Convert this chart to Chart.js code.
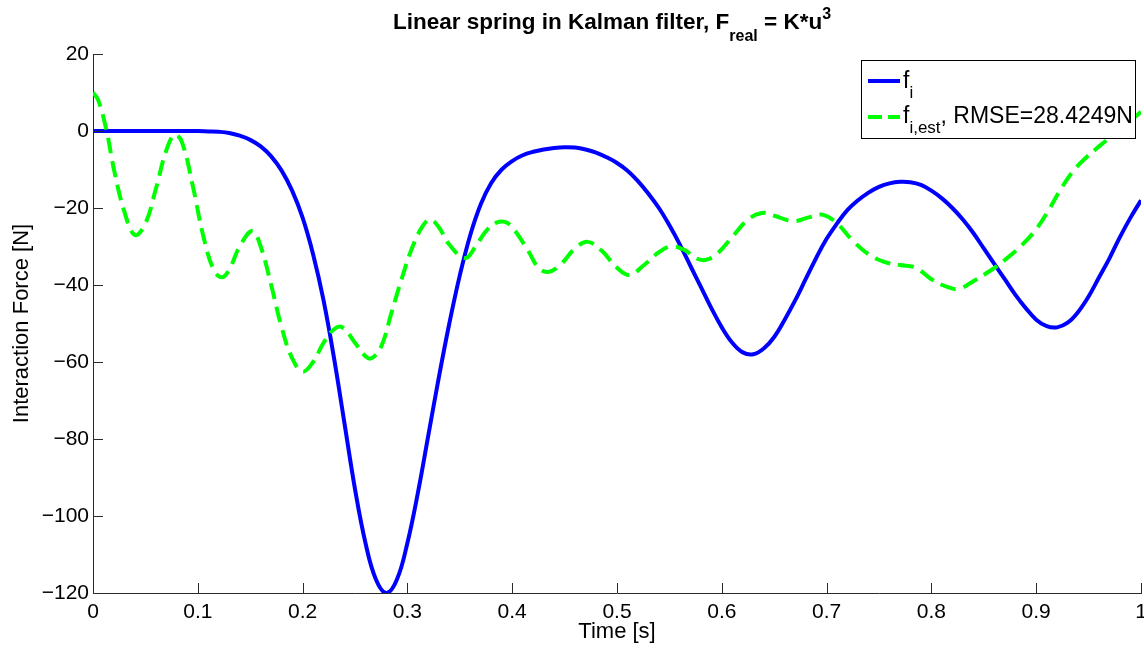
<!DOCTYPE html>
<html>
<head>
<meta charset="utf-8">
<script src="https://cdn.jsdelivr.net/npm/chart.js@4.4.1/dist/chart.umd.min.js"></script>
<style>
  html, body { margin: 0; padding: 0; background: #fff; }
  #wrap { width: 1144px; height: 648px; }
</style>
</head>
<body>
<div id="wrap"><canvas id="force-chart" width="1144" height="648"></canvas></div>
<script>
// real interaction force f_i
const timeReal = [0, 0.05, 0.10, 0.11, 0.12, 0.13, 0.14, 0.15, 0.16, 0.17, 0.18, 0.19, 0.20, 0.21, 0.22, 0.23, 0.24, 0.25,
  0.26, 0.27, 0.28, 0.29, 0.30, 0.31, 0.32, 0.33, 0.34, 0.35, 0.36, 0.37, 0.38, 0.39, 0.40, 0.41, 0.42, 0.43, 0.44,
  0.45, 0.46, 0.47, 0.48, 0.49, 0.50, 0.51, 0.52, 0.53, 0.54, 0.55, 0.56, 0.57, 0.58, 0.59, 0.60, 0.61, 0.62, 0.63,
  0.64, 0.65, 0.66, 0.67, 0.68, 0.69, 0.70, 0.71, 0.72, 0.73, 0.74, 0.75, 0.76, 0.77, 0.78, 0.79, 0.80, 0.81, 0.82,
  0.83, 0.84, 0.85, 0.86, 0.87, 0.88, 0.89, 0.90, 0.91, 0.92, 0.93, 0.94, 0.95, 0.96, 0.97, 0.98, 0.99, 1.00];
const forceReal = [0, 0, 0, -0.1, -0.2, -0.5, -1.2, -2.3, -4, -6.6, -10.3, -15.5, -22.5, -32, -44, -59, -76, -93,
  -107, -116.5, -120, -116.5, -107, -94, -79, -64, -50, -37.5, -27, -19, -13.5, -10, -7.8, -6.3, -5.4, -4.8, -4.4,
  -4.2, -4.3, -4.8, -5.6, -6.8, -8.3, -10.3, -13, -16.3, -20, -24.5, -29.5, -35, -40.5, -46, -51, -55, -57.5, -58,
  -56.5, -53.5, -49, -44, -38.5, -33, -28, -24, -20.5, -18, -16, -14.5, -13.6, -13.2, -13.3, -14, -15.5, -17.5, -20,
  -23, -26.5, -30.5, -34.5, -38.5, -42.5, -46, -49, -50.7, -51, -49.8, -47, -43, -38, -33, -27.5, -22.5, -18];

// Kalman estimate f_i,est
const timeEst = [0, 0.005, 0.013, 0.02, 0.03, 0.04, 0.05, 0.06, 0.07, 0.078, 0.085, 0.095, 0.105, 0.115, 0.123, 0.13, 0.14, 0.152,
  0.16, 0.17, 0.18, 0.19, 0.20, 0.21, 0.22, 0.23, 0.238, 0.25, 0.26, 0.266, 0.275, 0.285, 0.295, 0.305, 0.315, 0.322,
  0.33, 0.34, 0.355, 0.365, 0.375, 0.385, 0.393, 0.40, 0.415, 0.425, 0.434, 0.445, 0.46, 0.472, 0.485, 0.50,
  0.512, 0.525, 0.54, 0.552, 0.565, 0.575, 0.584, 0.595, 0.61, 0.625, 0.638, 0.65, 0.668, 0.685, 0.697, 0.71,
  0.725, 0.74, 0.755, 0.77, 0.785, 0.80, 0.815, 0.826, 0.84, 0.855, 0.87, 0.885, 0.90, 0.912, 0.923, 0.935,
  0.948, 0.96, 0.97, 0.985, 1.0];
const forceEst = [10, 8, 0, -10, -21, -27, -24, -15, -5, -1, -3, -14, -27, -36, -38, -36, -30, -26,
  -30, -40, -51, -59, -62.5, -60, -55, -51.5, -51, -55, -58.5, -59, -56, -47, -38, -30, -24.5, -23,
  -25, -29.5, -33, -30, -26, -23.8, -23.6, -25, -31, -35.5, -36.6, -35, -30.5, -28.8, -31, -35.5,
  -37.4, -35, -31.5, -30, -31, -33, -33.5, -32, -27.5, -23, -21.3, -22, -23.4, -22.3, -21.8, -24,
  -28.5, -32, -34, -34.8, -35.5, -38.5, -40.5, -41, -39, -36.5, -33.5, -30, -25.5, -20.5, -15.3, -10.5,
  -6.8, -4, -1.8, 1.5, 5];

const xTicks = [0, 0.1, 0.2, 0.3, 0.4, 0.5, 0.6, 0.7, 0.8, 0.9, 1];
const yTicks = [-120, -100, -80, -60, -40, -20, 0, 20];

const FONT = '"Liberation Sans", Arial, Helvetica, sans-serif';
const AXIS_COLOR = '#2b2b2b';

function toPoints(xs, ys) {
    return xs.map(function(x, i) { return { x: x, y: ys[i] }; });
}

// text with sub/superscript pieces: [text, 'n'|'sub'|'sup']
function drawRich(ctx, parts, x, y, size, weight, align, subDy, supDy) {
    const subSize = Math.round(size * 0.72);
    let total = 0;
    parts.forEach(function(p) {
        ctx.font = weight + ' ' + (p[1] === 'n' ? size : subSize) + 'px ' + FONT;
        total += ctx.measureText(p[0]).width;
    });
    let cx = align === 'center' ? x - total / 2 : x;
    ctx.textBaseline = 'alphabetic';
    ctx.textAlign = 'left';
    parts.forEach(function(p) {
        ctx.font = weight + ' ' + (p[1] === 'n' ? size : subSize) + 'px ' + FONT;
        let dy = 0;
        if (p[1] === 'sub') dy = subDy;
        if (p[1] === 'sup') dy = supDy;
        ctx.fillText(p[0], cx, y + dy);
        cx += ctx.measureText(p[0]).width;
    });
}

const decorPlugin = {
    id: 'decor',
    afterDraw: function(chart) {
        const ctx = chart.ctx;
        const area = chart.chartArea;
        const xs = chart.scales.x, ys = chart.scales.y;
        ctx.save();

        // inward tick marks
        ctx.strokeStyle = AXIS_COLOR;
        ctx.lineWidth = 1;
        ctx.beginPath();
        xTicks.forEach(function(v) {
            const px = Math.round(xs.getPixelForValue(v)) + 0.5;
            ctx.moveTo(px, area.bottom);
            ctx.lineTo(px, area.bottom - 10);
        });
        yTicks.forEach(function(v) {
            const py = Math.round(ys.getPixelForValue(v)) + 0.5;
            ctx.moveTo(area.left, py);
            ctx.lineTo(area.left + 10, py);
        });
        ctx.stroke();

        // title
        ctx.fillStyle = '#000';
        drawRich(ctx, [['Linear spring in Kalman filter, F', 'n'], ['real', 'sub'], [' = K*u', 'n'], ['3', 'sup']],
            612, 29, 22.5, 'bold', 'center', 12, -10);

        // legend box
        const lx = 861, ly = 60, lw = 274, lh = 78;
        ctx.fillStyle = '#fff';
        ctx.fillRect(lx, ly, lw, lh);
        ctx.strokeStyle = '#000';
        ctx.lineWidth = 1;
        ctx.strokeRect(lx + 0.5, ly + 0.5, lw, lh);

        ctx.lineWidth = 4;
        ctx.strokeStyle = '#0000ff';
        ctx.setLineDash([]);
        ctx.beginPath();
        ctx.moveTo(868, 81);
        ctx.lineTo(900, 81);
        ctx.stroke();

        ctx.strokeStyle = '#00ff00';
        ctx.setLineDash([14, 6]);
        ctx.beginPath();
        ctx.moveTo(868, 117);
        ctx.lineTo(900, 117);
        ctx.stroke();
        ctx.setLineDash([]);

        ctx.fillStyle = '#000';
        drawRich(ctx, [['f', 'n'], ['i', 'sub']], 903, 88, 23, 'normal', 'left', 10, 0);
        drawRich(ctx, [['f', 'n'], ['i,est', 'sub'], [', RMSE=28.4249N', 'n']], 903, 123, 23, 'normal', 'left', 10, 0);

        ctx.restore();
    }
};

const forceCtx = document.getElementById('force-chart').getContext('2d');
const forceChart = new Chart(forceCtx, {
    type: 'line',
    data: {
        datasets: [{
            label: 'f_i',
            data: toPoints(timeReal, forceReal),
            borderColor: '#0000ff',
            borderWidth: 4,
            pointRadius: 0,
            tension: 0.4,
            fill: false,
            order: 1
        }, {
            label: 'f_i,est',
            data: toPoints(timeEst, forceEst),
            borderColor: '#00ff00',
            borderWidth: 4,
            borderDash: [16, 8],
            pointRadius: 0,
            tension: 0.4,
            fill: false,
            order: 0
        }]
    },
    options: {
        responsive: false,
        animation: false,
        layout: { padding: { top: 54, left: 0, right: 3, bottom: 0 } },
        plugins: {
            legend: { display: false },
            title: { display: false },
            tooltip: { enabled: false }
        },
        scales: {
            x: {
                type: 'linear',
                min: 0,
                max: 1,
                afterBuildTicks: function(scale) {
                    scale.ticks = xTicks.map(function(v) { return { value: v }; });
                },
                afterFit: function(scale) {
                    scale.height = 55;
                    scale.paddingLeft = 0;
                    scale.paddingRight = 0;
                },
                grid: { display: false, drawTicks: false },
                border: { display: true, color: AXIS_COLOR, width: 1 },
                ticks: {
                    color: '#000',
                    padding: 7,
                    maxRotation: 0,
                    autoSkip: false,
                    font: { family: FONT, size: 21 },
                    callback: function(v) { return String(Math.round(v * 10) / 10); }
                },
                title: {
                    display: true,
                    text: 'Time [s]',
                    color: '#000',
                    font: { family: FONT, size: 22 },
                    padding: { top: 0, bottom: 3 }
                }
            },
            y: {
                type: 'linear',
                min: -120,
                max: 20,
                afterBuildTicks: function(scale) {
                    scale.ticks = yTicks.map(function(v) { return { value: v }; });
                },
                afterFit: function(scale) {
                    scale.width = 93;
                    scale.paddingTop = 0;
                    scale.paddingBottom = 0;
                },
                grid: { display: false, drawTicks: false },
                border: { display: true, color: AXIS_COLOR, width: 1 },
                ticks: {
                    color: '#000',
                    padding: 4,
                    autoSkip: false,
                    font: { family: FONT, size: 21 },
                    callback: function(v) { return String(v).replace('-', '\u2212'); }
                },
                title: {
                    display: true,
                    text: 'Interaction Force [N]',
                    color: '#000',
                    font: { family: FONT, size: 22 },
                    padding: { top: 9, bottom: 0 }
                }
            }
        }
    },
    plugins: [decorPlugin]
});
</script>
</body>
</html>
